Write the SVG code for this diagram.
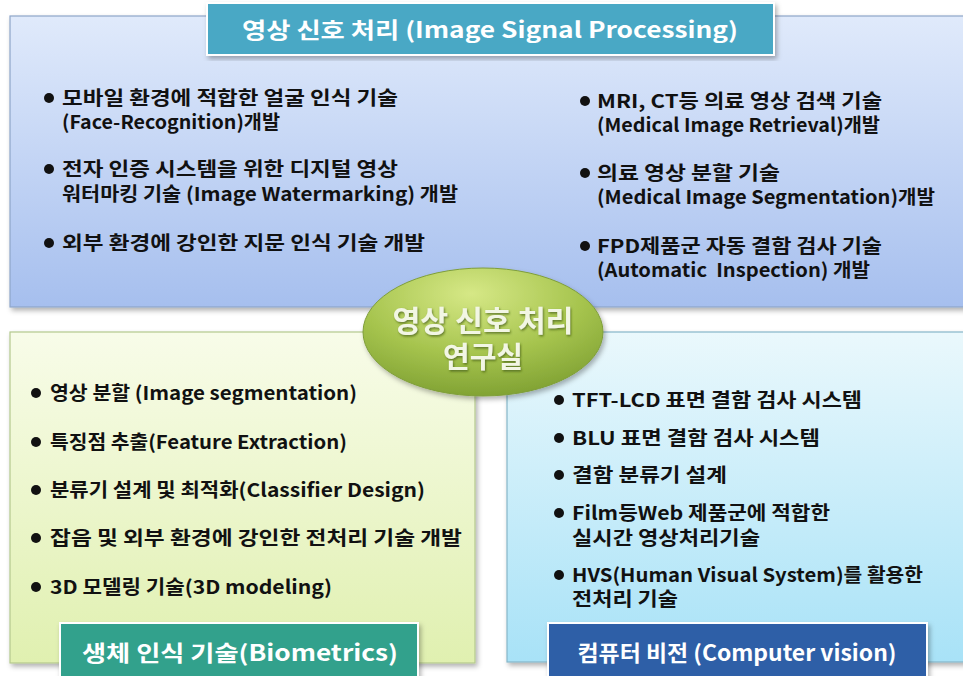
<svg xmlns="http://www.w3.org/2000/svg" width="963" height="676" viewBox="0 0 963 676">
<defs>
<linearGradient id="gTop" x1="0" y1="0" x2="0" y2="1"><stop offset="0" stop-color="#e0eafb"/><stop offset="1" stop-color="#a6bfee"/></linearGradient>
<linearGradient id="gBL" x1="0" y1="0" x2="0" y2="1"><stop offset="0" stop-color="#f8fce9"/><stop offset="1" stop-color="#e0f0b0"/></linearGradient>
<linearGradient id="gBR" x1="0" y1="0" x2="0" y2="1"><stop offset="0" stop-color="#eaf8fc"/><stop offset="1" stop-color="#a8e2f7"/></linearGradient>
<radialGradient id="gEl" cx="0.45" cy="0.2" r="0.85"><stop offset="0" stop-color="#d6e886"/><stop offset="0.55" stop-color="#a6c44e"/><stop offset="1" stop-color="#7c9e30"/></radialGradient>
<filter id="sh" x="-5%" y="-5%" width="110%" height="115%"><feDropShadow dx="2" dy="3" stdDeviation="2.5" flood-color="#000" flood-opacity="0.3"/></filter>
<filter id="tsh" x="-5%" y="-5%" width="110%" height="120%"><feDropShadow dx="1" dy="1.5" stdDeviation="1" flood-color="#3d5416" flood-opacity="0.7"/></filter>
</defs>
<style>
text{font-family:"Noto Sans CJK KR","Noto Sans",sans-serif;font-weight:bold}
.it{font-size:19px;fill:#111}
.tt{font-size:22px;fill:#fff}
.ct{font-size:29px;fill:#f2f6e4}
.b{fill:#111}
.panel{stroke-width:1.2}
.tb{stroke:#fff;stroke-width:2}
</style>
<rect width="963" height="676" fill="#fff"/>
<g id="connectors"/>
<g id="panel-signal">
<rect class="panel" x="10" y="16" width="960" height="291" fill="url(#gTop)" stroke="#8ea6c9" filter="url(#sh)"/>
<rect class="tb" x="207" y="3" width="567" height="52" fill="#48a8c5" filter="url(#sh)"/>
<text class="tt" x="490" y="38" text-anchor="middle" textLength="496" lengthAdjust="spacingAndGlyphs">영상 신호 처리 (Image Signal Processing)</text>
<circle class="b" cx="49" cy="98" r="5"/>
<text class="it"><tspan x="62" y="105" textLength="336" lengthAdjust="spacingAndGlyphs">모바일 환경에 적합한 얼굴 인식 기술</tspan><tspan x="62" y="129" textLength="218" lengthAdjust="spacingAndGlyphs">(Face-Recognition)개발</tspan></text>
<circle class="b" cx="49" cy="169" r="5"/>
<text class="it"><tspan x="62" y="176" textLength="336" lengthAdjust="spacingAndGlyphs">전자 인증 시스템을 위한 디지털 영상</tspan><tspan x="62" y="201" textLength="396" lengthAdjust="spacingAndGlyphs">워터마킹 기술 (Image Watermarking) 개발</tspan></text>
<circle class="b" cx="49" cy="243" r="5"/>
<text class="it" x="62" y="250" textLength="363" lengthAdjust="spacingAndGlyphs">외부 환경에 강인한 지문 인식 기술 개발</text>
<circle class="b" cx="585" cy="101" r="5"/>
<text class="it"><tspan x="597" y="108" textLength="285" lengthAdjust="spacingAndGlyphs">MRI, CT등 의료 영상 검색 기술</tspan><tspan x="597" y="132" textLength="283" lengthAdjust="spacingAndGlyphs">(Medical Image Retrieval)개발</tspan></text>
<circle class="b" cx="585" cy="173" r="5"/>
<text class="it"><tspan x="597" y="180" textLength="183" lengthAdjust="spacingAndGlyphs">의료 영상 분할 기술</tspan><tspan x="597" y="204" textLength="338" lengthAdjust="spacingAndGlyphs">(Medical Image Segmentation)개발</tspan></text>
<circle class="b" cx="585" cy="246" r="5"/>
<text class="it" xml:space="preserve"><tspan x="597" y="253" textLength="285" lengthAdjust="spacingAndGlyphs">FPD제품군 자동 결함 검사 기술</tspan><tspan x="597" y="277" textLength="273" lengthAdjust="spacingAndGlyphs">(Automatic  Inspection) 개발</tspan></text>
</g>
<g id="panel-biometrics">
<rect class="panel" x="10" y="332" width="465" height="331" fill="url(#gBL)" stroke="#b4c98e" filter="url(#sh)"/>
<circle class="b" cx="36" cy="393" r="5"/>
<text class="it" x="50" y="400" textLength="307" lengthAdjust="spacingAndGlyphs">영상 분할 (Image segmentation)</text>
<circle class="b" cx="36" cy="442" r="5"/>
<text class="it" x="50" y="449" textLength="297" lengthAdjust="spacingAndGlyphs">특징점 추출(Feature Extraction)</text>
<circle class="b" cx="36" cy="490" r="5"/>
<text class="it" x="50" y="497" textLength="375" lengthAdjust="spacingAndGlyphs">분류기 설계 및 최적화(Classifier Design)</text>
<circle class="b" cx="36" cy="538" r="5"/>
<text class="it" x="50" y="545" textLength="412" lengthAdjust="spacingAndGlyphs">잡음 및 외부 환경에 강인한 전처리 기술 개발</text>
<circle class="b" cx="36" cy="587" r="5"/>
<text class="it" x="50" y="594" textLength="282" lengthAdjust="spacingAndGlyphs">3D 모델링 기술(3D modeling)</text>
<rect class="tb" x="60" y="623" width="358" height="60" fill="#32a18c" filter="url(#sh)"/>
<text class="tt" x="240" y="661" text-anchor="middle" textLength="316" lengthAdjust="spacingAndGlyphs">생체 인식 기술(Biometrics)</text>
</g>
<g id="panel-vision">
<rect class="panel" x="507" y="332" width="462" height="330" fill="url(#gBR)" stroke="#86b6c8" filter="url(#sh)"/>
<circle class="b" cx="559" cy="400" r="5"/>
<text class="it" x="572" y="407" textLength="290" lengthAdjust="spacingAndGlyphs">TFT-LCD 표면 결함 검사 시스템</text>
<circle class="b" cx="559" cy="438" r="5"/>
<text class="it" x="572" y="445" textLength="248" lengthAdjust="spacingAndGlyphs">BLU 표면 결함 검사 시스템</text>
<circle class="b" cx="559" cy="475" r="5"/>
<text class="it" x="572" y="482" textLength="155" lengthAdjust="spacingAndGlyphs">결함 분류기 설계</text>
<circle class="b" cx="559" cy="513" r="5"/>
<text class="it"><tspan x="572" y="520" textLength="258" lengthAdjust="spacingAndGlyphs">Film등Web 제품군에 적합한</tspan><tspan x="572" y="545" textLength="188" lengthAdjust="spacingAndGlyphs">실시간 영상처리기술</tspan></text>
<circle class="b" cx="559" cy="575" r="5"/>
<text class="it"><tspan x="572" y="582" textLength="351" lengthAdjust="spacingAndGlyphs">HVS(Human Visual System)를 활용한</tspan><tspan x="572" y="606" textLength="106" lengthAdjust="spacingAndGlyphs">전처리 기술</tspan></text>
<rect class="tb" x="548" y="623" width="379" height="60" fill="#2d5fa7" filter="url(#sh)"/>
<text class="tt" x="737" y="661" text-anchor="middle" textLength="319" lengthAdjust="spacingAndGlyphs">컴퓨터 비전 (Computer vision)</text>
</g>
<g id="center-node">
<ellipse cx="483" cy="332" rx="120" ry="64" fill="url(#gEl)" stroke="#7f9e3a" stroke-width="1" filter="url(#sh)"/>
<text class="ct" text-anchor="middle" filter="url(#tsh)"><tspan x="483" y="332" textLength="181" lengthAdjust="spacingAndGlyphs">영상 신호 처리</tspan><tspan x="483" y="368">연구실</tspan></text>
</g>
</svg>
